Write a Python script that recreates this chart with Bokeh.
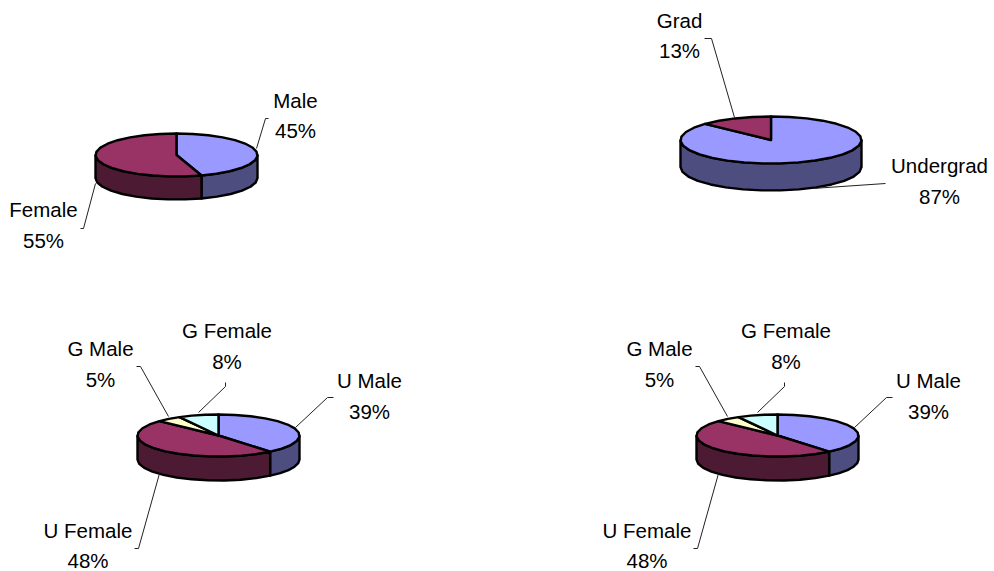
import numpy as np
from bokeh.plotting import figure
from bokeh.models import Range1d
from bokeh.core.properties import value
from bokeh.embed import file_html
from bokeh.resources import INLINE

# data
gender_names = ["Male", "Female"]
gender_values = [45, 55]
level_names = ["Undergrad", "Grad"]
level_values = [87, 13]
combo_names = ["U Male", "U Female", "G Male", "G Female"]
combo_values = [39, 48, 5, 8]

TOPS = ["#9999FF", "#993366", "#FFFFCC", "#CCFFFF"]
WALLS = ["#4D4D80", "#4D1A33", "#808066", "#668080"]
FONT = value("Liberation Sans")
W, H = 994, 571

# layout: centre x, centre y, radius x, radius y, depth, then per-slice label centre + leader path
pies = [
    dict(names=gender_names, values=gender_values, cx=176, cy=154.5, rx=81, ry=21.5, depth=23,
         labels=[(295, 100, 130), (43, 209, 240)],
         leaders=[[(268, 118), (265, 118), (256, 148)], [(80, 228), (83, 228), (95, 183)]]),
    dict(names=level_names, values=level_values, cx=770.5, cy=139.5, rx=90.5, ry=23.5, depth=27,
         labels=[(939, 165, 196), (679, 20, 50)],
         leaders=[[(885, 183), (812, 188)], [(704, 38), (711, 38), (734, 117)]]),
]
for dx in (0, 559):
    pies.append(dict(names=combo_names, values=combo_values, cx=218 + dx, cy=435, rx=81, ry=21, depth=24,
         labels=[(369 + dx, 380, 411), (87.5 + dx, 530, 559.5), (100 + dx, 348, 379), (226.5 + dx, 330, 361)],
         leaders=[[(333 + dx, 397), (327 + dx, 397), (295 + dx, 427)],
                  [(134 + dx, 548), (138 + dx, 548), (159 + dx, 473)],
                  [(136 + dx, 366), (140 + dx, 366), (168 + dx, 416)],
                  [(225 + dx, 382), (225 + dx, 386), (198 + dx, 412)]]))

p = figure(width=W, height=H, output_backend="svg", toolbar_location=None,
           x_range=Range1d(0, W), y_range=Range1d(H, 0), min_border=0)
p.axis.visible = False
p.grid.visible = False
p.outline_line_color = None


def rim(pie, a0, a1):
    n = int(np.ceil((a1 - a0) / 12)) + 1
    a = np.radians(np.linspace(a0, a1, n))
    return pie["cx"] + pie["rx"] * np.sin(a), pie["cy"] - pie["ry"] * np.cos(a)


for pie in pies:
    vals = np.array(pie["values"], dtype=float)
    edges = np.concatenate([[0], np.cumsum(vals) / vals.sum() * 360])
    # walls: only the part of each slice on the front half of the rim
    for i, (a0, a1) in enumerate(zip(edges[:-1], edges[1:])):
        lo, hi = max(a0, 90), min(a1, 270)
        if hi > lo:
            x, y = rim(pie, lo, hi)
            xs = np.concatenate([x, x[::-1]])
            ys = np.concatenate([y, y[::-1] + pie["depth"]])
            p.patch(xs, ys, fill_color=WALLS[i], line_color="black", line_width=2.4, line_join="round")
    # top face
    for i, (a0, a1) in enumerate(zip(edges[:-1], edges[1:])):
        x, y = rim(pie, a0, a1)
        xs = np.concatenate([[pie["cx"]], x])
        ys = np.concatenate([[pie["cy"]], y])
        p.patch(xs, ys, fill_color=TOPS[i], line_color="black", line_width=2.4, line_join="round")
    # leaders and labels
    for i, name in enumerate(pie["names"]):
        path = pie["leaders"][i]
        p.line([q[0] for q in path], [q[1] for q in path], line_color="#222222", line_width=1)
        lx, y1, y2 = pie["labels"][i]
        p.text([lx], [y1], text=[name], text_font=FONT, text_font_size="20.5px", text_color="black",
               text_align="center", text_baseline="middle")
        p.text([lx], [y2], text=[f"{pie['values'][i]}%"], text_font=FONT, text_font_size="20.5px",
               text_color="black", text_align="center", text_baseline="middle")

open("out.html", "w").write(file_html(p, INLINE))
